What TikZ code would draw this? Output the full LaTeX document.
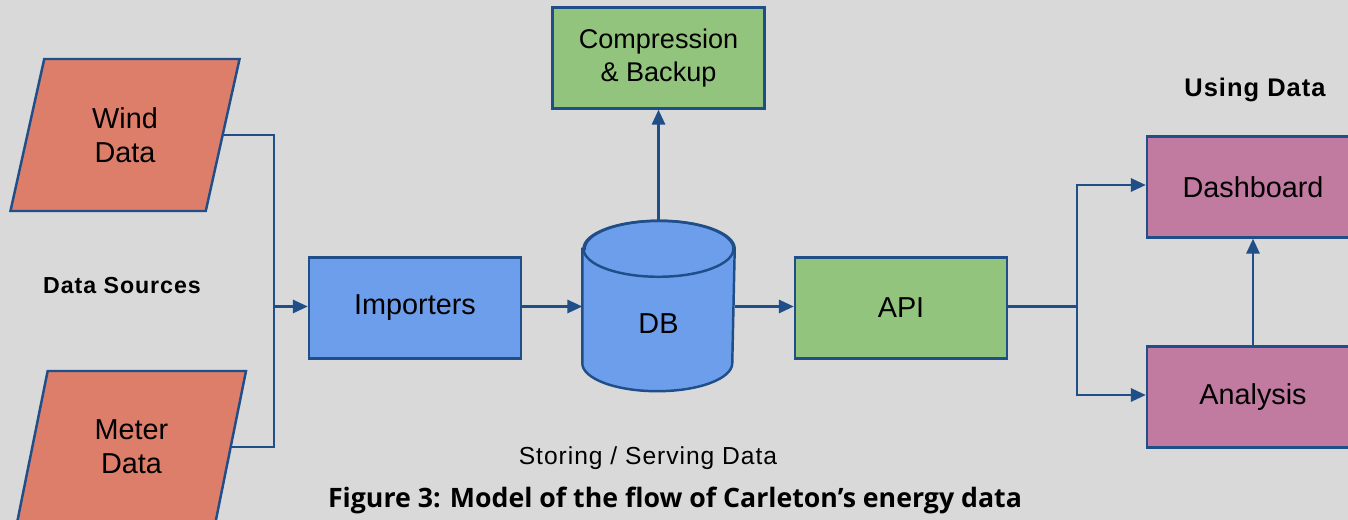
\documentclass[tikz,border=0pt]{standalone}
\usepackage{fontspec}
\setmainfont{Liberation Sans}
\newfontfamily\capfont{Open Sans}
\usetikzlibrary{arrows.meta,positioning,calc,shapes.geometric}
\definecolor{bggray}{HTML}{D9D9D9}
\definecolor{edgeblue}{HTML}{1F4E89}
\definecolor{srcred}{HTML}{DD7E6B}
\definecolor{storeblue}{HTML}{6D9EEB}
\definecolor{servegreen}{HTML}{93C47D}
\definecolor{usepink}{HTML}{C27BA0}
\tikzset{every picture/.style={line width=1.4pt}}
\tikzset{
  boxtext/.style={font=\fontsize{16.4}{19.3}\selectfont, align=center},
  procbox/.style={boxtext, draw=edgeblue, rectangle, minimum width=4.24cm, minimum height=2.02cm, inner sep=0pt},
  srcbox/.style={boxtext, draw=edgeblue, fill=srcred, trapezium, trapezium left angle=76, trapezium right angle=104,
    trapezium stretches=true, minimum width=4.6cm, minimum height=3.04cm, inner sep=0pt},
  grouplabel/.style={font=\fontsize{13.2}{15}\selectfont\bfseries\addfontfeatures{LetterSpace=4}},
  flow/.style={draw=edgeblue, -{Triangle[length=8.5pt,width=7.5pt]}},
  wire/.style={draw=edgeblue}
}

\begin{document}
\begin{tikzpicture}[x=0.02cm, y=-0.02cm]
    \fill[bggray] (0,0) rectangle (1348,520);
    \useasboundingbox (0,0) rectangle (1348,520);

    % sources
    \node[srcbox] (wind) at (125,135) {Wind\\Data};
    \node[srcbox] (meter) at (131.5,447) {Meter\\Data};
    \node[grouplabel] (srclabel) at (122,286) {Data Sources};

    % storing / serving
    \node[procbox, fill=storeblue] (imp) at (415,308) {Importers};
    \node[minimum width=3cm, minimum height=3.36cm, inner sep=0pt] (db) at (658.5,306) {};
    \filldraw[draw=edgeblue, fill=storeblue]
        ($(db.north west)+(0,28)$) -- ($(db.south west)+(0,-28)$)
        arc[start angle=180, end angle=360, x radius=1.5cm, y radius=0.56cm]
        -- ($(db.north east)+(0,28)$)
        arc[start angle=0, end angle=180, x radius=1.5cm, y radius=0.56cm] -- cycle;
    \draw[edgeblue] ($(db.north)+(0,28)$) ellipse [x radius=1.5cm, y radius=0.56cm];
    \node[boxtext] (dbtext) at ($(db.center)+(0,18)$) {DB};
    \node[procbox, fill=servegreen, font=\fontsize{15.4}{18.6}\selectfont] (backup) at (658.5,58) {Compression\\\& Backup};
    \node[procbox, fill=servegreen] (api) at (901,308) {API};
    \node[font=\fontsize{14}{16}\selectfont\addfontfeatures{LetterSpace=4}] (storelabel) at (648,458) {Storing / Serving Data};

    % using
    \node[procbox, fill=usepink] (dash) at (1253,187) {Dashboard};
    \node[procbox, fill=usepink] (ana) at (1253,397) {Analysis};
    \node[font=\fontsize{14.5}{16}\selectfont\bfseries\addfontfeatures{LetterSpace=4}] (uselabel) at (1255,90) {Using Data};

    % connectors
    \coordinate (merge) at (274,306.5);
    \coordinate (split) at (1077,306.5);
    \draw[wire] (wind.east) -| (merge);
    \draw[wire] (meter.east) -| (merge);
    \draw[flow] (merge) -- (merge -| imp.west);
    \draw[flow] (imp.east |- merge) -- (merge -| db.west);
    \draw[flow] (db.north) -- (db.north |- backup.south);
    \draw[flow] (split -| db.east) -- (split -| api.west);
    \draw[wire] (split -| api.east) -- (split);
    \draw[flow] (split) |- ($(dash.west)+(0,-2)$);
    \draw[flow] (split) |- ($(ana.west)+(0,-2)$);
    \draw[flow] (ana.north) -- (dash.south);

    \node[font=\capfont\fontsize{15.2}{18}\selectfont\bfseries] (caption) at (675,500) {Figure 3: Model of the flow of Carleton’s energy data};
\end{tikzpicture}
\end{document}
